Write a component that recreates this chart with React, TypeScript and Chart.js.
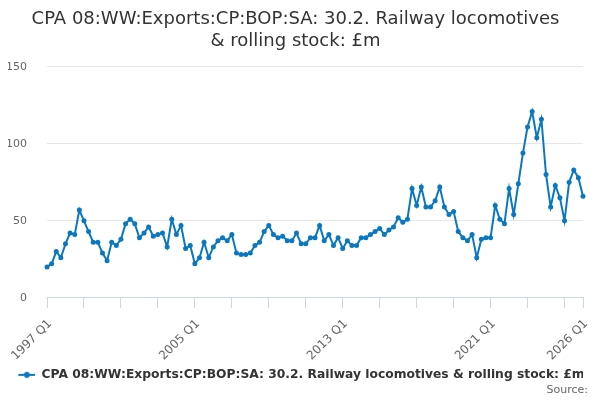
import { useEffect, useRef } from "react";
import { Chart, registerables } from "chart.js";

Chart.register(...registerables);

const seriesName = "CPA 08:WW:Exports:CP:BOP:SA: 30.2. Railway locomotives & rolling stock: £m";
const titleLines = ["CPA 08:WW:Exports:CP:BOP:SA: 30.2. Railway locomotives", "& rolling stock: £m"];
const sourceText = "Source:";

// 1997 Q1 .. 2026 Q1
const firstYear = 1997;
const lastYear = 2026;
const quarters: string[] = [];
for (let y = firstYear; y <= lastYear; y++) {
  for (let q = 1; q <= 4; q++) {
    if (y === lastYear && q > 1) break;
    quarters.push(`${y} Q${q}`);
  }
}

const tickLabels = ["1997 Q1", "2005 Q1", "2013 Q1", "2021 Q1", "2026 Q1"];

const exportsValues = [
  20, 22, 30, 26, 35, 42, 41, 57, 50, 43, 36, 36, 29, 24, 36, 34, 38, 48, 51, 48, 39,
  42, 46, 40, 41, 42, 33, 51, 41, 47, 32, 34, 22, 26, 36, 26, 33, 37, 39, 37, 41, 29,
  28, 28, 29, 34, 36, 43, 47, 41, 39, 40, 37, 37, 42, 35, 35, 39, 39, 47, 37, 41, 34,
  39, 32, 37, 34, 34, 39, 39, 41, 43, 45, 41, 44, 46, 52, 49, 51, 71, 60, 72, 59, 59,
  63, 72, 59, 54, 56, 43, 39, 37, 41, 26, 38, 39, 39, 60, 51, 48, 71, 54, 74, 94, 111,
  121, 104, 116, 80, 59, 73, 65, 50, 75, 83, 78, 66,
];

const lineColor = "#0a78bf";

// line + marker, with some empty room on the left so the centred legend sits like the original
function legendSymbol() {
  const c = document.createElement("canvas");
  c.width = 29;
  c.height = 8;
  const ctx = c.getContext("2d")!;
  ctx.strokeStyle = lineColor;
  ctx.lineWidth = 2;
  ctx.beginPath();
  ctx.moveTo(12, 4);
  ctx.lineTo(29, 4);
  ctx.stroke();
  ctx.fillStyle = lineColor;
  ctx.beginPath();
  ctx.arc(20.5, 4, 3, 0, Math.PI * 2);
  ctx.fill();
  return c;
}

const sourcePlugin = {
  id: "sourceNote",
  afterDraw(chart: Chart) {
    const { ctx } = chart;
    ctx.save();
    ctx.font = "11px 'DejaVu Sans', sans-serif";
    ctx.fillStyle = "#666666";
    ctx.textAlign = "right";
    ctx.textBaseline = "middle";
    ctx.fillText(sourceText, 588, 390);
    ctx.restore();
  },
};

export default function App() {
  const canvasRef = useRef<HTMLCanvasElement>(null);
  const chartRef = useRef<Chart | null>(null);

  useEffect(() => {
    document.body.style.margin = "0";
    if (!canvasRef.current) return;
    chartRef.current?.destroy();
    Chart.defaults.font.family = "'DejaVu Sans', sans-serif";
    const last = quarters.length - 1;

    chartRef.current = new Chart(canvasRef.current, {
      type: "line",
      data: {
        labels: quarters,
        datasets: [{
          label: seriesName,
          data: exportsValues,
          borderColor: lineColor,
          backgroundColor: lineColor,
          borderWidth: 2,
          pointRadius: 2.5,
          pointBorderWidth: 0,
          pointBackgroundColor: lineColor,
          tension: 0,
        }],
      },
      plugins: [sourcePlugin],
      options: {
        responsive: false,
        animation: false,
        layout: { padding: { left: 8, right: 17, top: 0, bottom: 9 } },
        scales: {
          x: {
            offset: false,
            border: { color: "#ccd6eb", width: 1 },
            grid: {
              drawOnChartArea: false,
              drawTicks: true,
              tickLength: 16,
              tickBorderDash: [10, 100],
              tickColor: (ctx: any) => (ctx.index % 8 === 0 || ctx.index === last ? "#ccd6eb" : "rgba(0,0,0,0)"),
            },
            ticks: {
              autoSkip: false,
              minRotation: 45,
              maxRotation: 45,
              color: "#666666",
              font: { size: 12 },
              padding: 3,
              labelOffset: 3,
              callback: function (this: any, value: any) {
                const lab = this.getLabelForValue(value);
                return tickLabels.includes(lab) ? lab : "";
              },
            },
            afterFit: (scale: any) => { scale.height = 65; },
          },
          y: {
            min: 0,
            max: 150,
            border: { display: false },
            grid: { color: "#e6e6e6", drawTicks: false },
            ticks: { stepSize: 50, color: "#666666", font: { size: 11 }, padding: 20 },
            afterFit: (scale: any) => { scale.width = 39; },
          },
        },
        plugins: {
          title: {
            display: true,
            text: titleLines,
            color: "#333333",
            font: { size: 18, weight: "normal", lineHeight: 1.22 },
            padding: { top: 8, bottom: 15 },
          },
          legend: {
            position: "bottom",
            labels: {
              color: "#333333",
              font: { size: 12.3, weight: "bold" },
              usePointStyle: true,
              pointStyle: legendSymbol(),
              pointStyleWidth: 29,
              padding: 6,
            },
          },
          tooltip: { enabled: false },
        },
      },
    });

    return () => { chartRef.current?.destroy(); };
  }, []);

  return (
    <div style={{ width: 600, height: 400 }}>
      <canvas ref={canvasRef} width={600} height={400} />
    </div>
  );
}
